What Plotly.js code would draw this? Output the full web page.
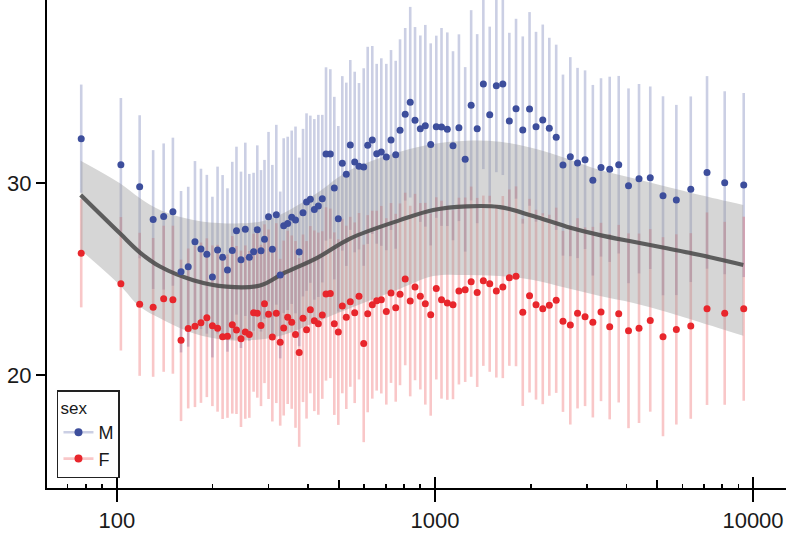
<!DOCTYPE html>
<html>
<head>
<meta charset="utf-8">
<script src="https://cdn.plot.ly/plotly-3.0.1.min.js"></script>
<style>
  html, body { margin: 0; padding: 0; background: #fff; }
  #chart { width: 794px; height: 535px; }
</style>
</head>
<body>
<div id="chart"></div>
<script>
// bin centres (log x) shared by both sexes
var binX = [77.3, 103.0, 118.0, 130.1, 140.4, 150.1, 159.2, 167.7, 176.1, 183.9,
  191.9, 199.8, 207.4, 215.1, 222.8, 230.7, 237.8, 245.7, 253.5, 261.0,
  269.2, 276.5, 284.0, 291.3, 299.9, 308.3, 317.3, 326.4, 334.7, 344.5,
  354.7, 364.6, 374.5, 384.9, 394.9, 405.9, 417.8, 430.1, 442.6, 454.7,
  469.1, 482.8, 497.0, 511.6, 526.6, 542.0, 559.6, 577.3, 597.3, 614.8,
  635.6, 656.2, 678.5, 703.5, 727.8, 753.1, 776.9, 806.6, 836.4, 866.0,
  899.9, 933.0, 970.1, 1010, 1049, 1094, 1140, 1190, 1245, 1300,
  1358, 1420, 1487, 1560, 1635, 1714, 1799, 1889, 1984, 2079,
  2183, 2289, 2406, 2527, 2665, 2808, 2965, 3137, 3328, 3544,
  3783, 4061, 4382, 4753, 5213, 5741, 6373, 7169, 8147, 9350];

var maleY = [32.33, 30.97, 29.82, 28.11, 28.27, 28.52, 25.39, 25.65, 26.95, 26.58,
  26.30, 25.11, 26.52, 26.14, 25.48, 26.49, 27.53, 26.01, 27.60, 26.14,
  26.43, 27.58, 26.48, 27.08, 28.26, 26.56, 28.36, 25.22, 27.79, 27.91,
  28.23, 28.09, 26.42, 28.47, 29.02, 29.17, 28.64, 28.82, 29.20, 31.53,
  31.53, 29.75, 28.15, 31.04, 30.47, 32.00, 31.11, 30.89, 30.85, 31.98,
  32.26, 31.54, 31.63, 31.37, 32.26, 31.49, 32.77, 33.60, 34.23, 33.29,
  32.85, 33.00, 32.03, 32.95, 32.94, 32.82, 31.96, 32.90, 31.25, 34.07,
  32.85, 35.18, 33.58, 35.09, 35.18, 33.25, 33.89, 32.78, 33.88, 32.95,
  33.30, 32.87, 32.40, 30.95, 31.39, 31.06, 31.23, 30.16, 30.83, 30.73,
  30.97, 29.87, 30.24, 30.29, 29.35, 29.13, 29.69, 30.57, 30.03, 29.91];

var femaleY = [26.35, 24.76, 23.69, 23.53, 23.98, 23.93, 21.81, 22.43, 22.54, 22.73,
  22.99, 22.57, 22.44, 22.00, 22.03, 22.62, 22.35, 21.89, 22.24, 22.12,
  23.25, 23.22, 22.59, 23.72, 23.17, 21.98, 23.23, 21.71, 22.45, 23.01,
  22.76, 22.12, 21.18, 22.96, 22.36, 23.41, 22.83, 22.68, 23.13, 24.23,
  24.26, 22.68, 22.24, 23.60, 23.01, 23.82, 23.25, 24.11, 21.65, 23.20,
  23.67, 23.88, 23.93, 23.32, 24.28, 23.51, 24.21, 25.01, 23.86, 24.59,
  24.11, 23.72, 23.15, 24.52, 23.93, 23.76, 23.67, 24.38, 24.45, 24.87,
  24.31, 24.92, 24.76, 24.38, 24.59, 25.08, 25.15, 23.27, 24.14, 23.67,
  23.46, 23.64, 23.90, 22.80, 22.61, 23.22, 23.04, 22.76, 23.29, 22.52,
  23.20, 22.31, 22.44, 22.85, 22.00, 22.38, 22.56, 23.46, 23.22, 23.46];

// half-length of the range bars (same for M and F in each bin)
var binErr = [2.82, 3.48, 3.73, 3.62, 3.81, 3.86, 4.21, 4.17, 4.21, 4.18,
  4.14, 4.19, 4.35, 4.29, 4.26, 4.63, 4.38, 4.60, 4.52, 4.35,
  4.12, 4.40, 4.21, 4.14, 4.42, 4.40, 4.69, 4.35, 4.56, 4.52,
  4.52, 4.87, 4.92, 4.37, 4.63, 4.36, 4.71, 4.75, 4.37, 4.52,
  4.42, 4.76, 4.84, 4.55, 4.78, 4.43, 4.71, 4.34, 5.15, 5.14,
  4.90, 4.69, 4.89, 4.86, 4.69, 4.90, 4.74, 4.50, 4.97, 4.86,
  4.86, 5.26, 5.27, 4.75, 5.16, 5.05, 4.93, 4.87, 4.81, 4.96,
  4.93, 4.44, 4.59, 4.51, 4.75, 4.60, 4.69, 4.88, 5.05, 4.95,
  4.98, 4.72, 4.83, 4.72, 5.19, 4.96, 4.66, 4.97, 4.65, 4.83,
  4.63, 5.08, 4.94, 4.76, 5.19, 4.96, 4.84, 5.02, 4.77, 4.80];

// smoother and its band
var smoothX = [77.0, 102.3, 118.3, 136.7, 174.0, 221.5, 282.0, 333.8, 425.1, 541.0,
  776.9, 988.5, 1259, 1602, 2038, 2596, 3304, 4205, 5355, 6814, 9322];
var smoothFit = [29.39, 27.39, 26.39, 25.66, 24.95, 24.61, 24.67, 25.30, 26.10, 27.12,
  28.08, 28.61, 28.80, 28.76, 28.29, 27.74, 27.30, 26.95, 26.61, 26.26, 25.74];
var smoothHi = [31.18, 30.00, 29.22, 28.61, 28.09, 27.91, 28.00, 28.44, 29.48, 30.69,
  31.65, 32.05, 32.22, 32.17, 31.83, 31.30, 30.69, 30.26, 29.82, 29.39, 28.87];
var smoothLo = [26.52, 24.69, 23.56, 22.96, 22.18, 21.83, 21.86, 22.09, 22.78, 23.48,
  24.50, 25.16, 25.22, 25.16, 24.96, 24.54, 24.12, 23.76, 23.29, 22.76, 22.05];

var sexes = ['M', 'F'];
var dotColor = {M: '#3d4e9c', F: '#e8262c'};
var barColor = {M: 'rgba(61,78,156,0.27)', F: 'rgba(232,38,44,0.26)'};
var sexY = {M: maleY, F: femaleY};

var font = '"Liberation Sans", Arial, sans-serif';
var traces = [];

// range bars first, so the band sits over them
sexes.forEach(function (s) {
  traces.push({
    type: 'scatter', mode: 'markers', x: binX, y: sexY[s],
    marker: {size: 1, opacity: 0},
    error_y: {type: 'data', array: binErr, visible: true, color: barColor[s], thickness: 2.6, width: 0},
    showlegend: false, hoverinfo: 'skip'
  });
});

traces.push({
  type: 'scatter', mode: 'lines', x: smoothX, y: smoothLo,
  line: {width: 0, shape: 'spline'}, showlegend: false, hoverinfo: 'skip'
});
traces.push({
  type: 'scatter', mode: 'lines', x: smoothX, y: smoothHi, fill: 'tonexty',
  fillcolor: 'rgba(153,153,153,0.4)',
  line: {width: 0, shape: 'spline'}, showlegend: false, hoverinfo: 'skip'
});
traces.push({
  type: 'scatter', mode: 'lines', x: smoothX, y: smoothFit,
  line: {width: 4.2, color: 'rgba(72,72,72,0.85)', shape: 'spline'},
  showlegend: false
});

sexes.forEach(function (s) {
  traces.push({
    type: 'scatter', mode: 'markers', x: binX, y: sexY[s], name: s,
    marker: {size: 7, color: dotColor[s]}, showlegend: false
  });
});

// legend keys: point with a faint bar through it
sexes.forEach(function (s) {
  traces.push({
    type: 'scatter', mode: 'lines+markers', x: [null], y: [null], name: s,
    marker: {size: 8, color: dotColor[s]},
    line: {color: barColor[s], width: 2.6}
  });
});

// empty trace so the overlaid tick axis gets drawn
traces.push({type: 'scatter', mode: 'markers', x: [null], y: [null], xaxis: 'x2', showlegend: false});

var xRange = [1.7806, 4.1037];
var minorVals = [];
[10, 100, 1000].forEach(function (d) {
  [2, 3, 4, 6, 7, 8, 9].forEach(function (k) { minorVals.push(k * d); });
});

var layout = {
  width: 794, height: 535,
  margin: {l: 47, r: 8, t: 0, b: 47},
  paper_bgcolor: '#fff', plot_bgcolor: '#fff',
  font: {family: font, color: '#1a1a1a', size: 22},
  xaxis: {
    type: 'log', range: xRange,
    tickvals: [100, 1000, 10000], ticktext: ['100', '1000', '10000'],
    ticks: 'outside', ticklen: 12, tickwidth: 2, tickcolor: '#000',
    showline: true, linewidth: 2, linecolor: '#000',
    showgrid: false, zeroline: false,
    tickfont: {size: 22},
    minor: {tickvals: minorVals, ticks: 'inside', ticklen: 4.5, tickwidth: 1.8, tickcolor: '#000', showgrid: false}
  },
  xaxis2: {
    type: 'log', range: xRange, overlaying: 'x', anchor: 'y', side: 'bottom',
    tickvals: [100, 1000, 10000], showticklabels: false,
    ticks: 'inside', ticklen: 11, tickwidth: 2, tickcolor: '#000',
    showline: false, showgrid: false, zeroline: false,
    minor: {tickvals: [500, 5000], ticks: 'inside', ticklen: 8, tickwidth: 1.8, tickcolor: '#000', showgrid: false}
  },
  yaxis: {
    range: [14.11, 39.56],
    tickvals: [20, 30], ticktext: ['20', '30'],
    ticks: 'outside', ticklen: 9, tickwidth: 2, tickcolor: '#000',
    showline: true, linewidth: 2, linecolor: '#000',
    showgrid: false, zeroline: false,
    tickfont: {size: 22}
  },
  legend: {
    x: 0.0135, y: 0.2, xanchor: 'left', yanchor: 'top',
    traceorder: 'normal',
    bgcolor: '#fff', bordercolor: '#222', borderwidth: 1.5,
    font: {size: 18}, title: {text: 'sex', font: {size: 17}},
    itemwidth: 30, tracegroupgap: 0
  },
  showlegend: true
};

Plotly.newPlot('chart', traces, layout, {displayModeBar: false, staticPlot: true});
</script>
</body>
</html>
